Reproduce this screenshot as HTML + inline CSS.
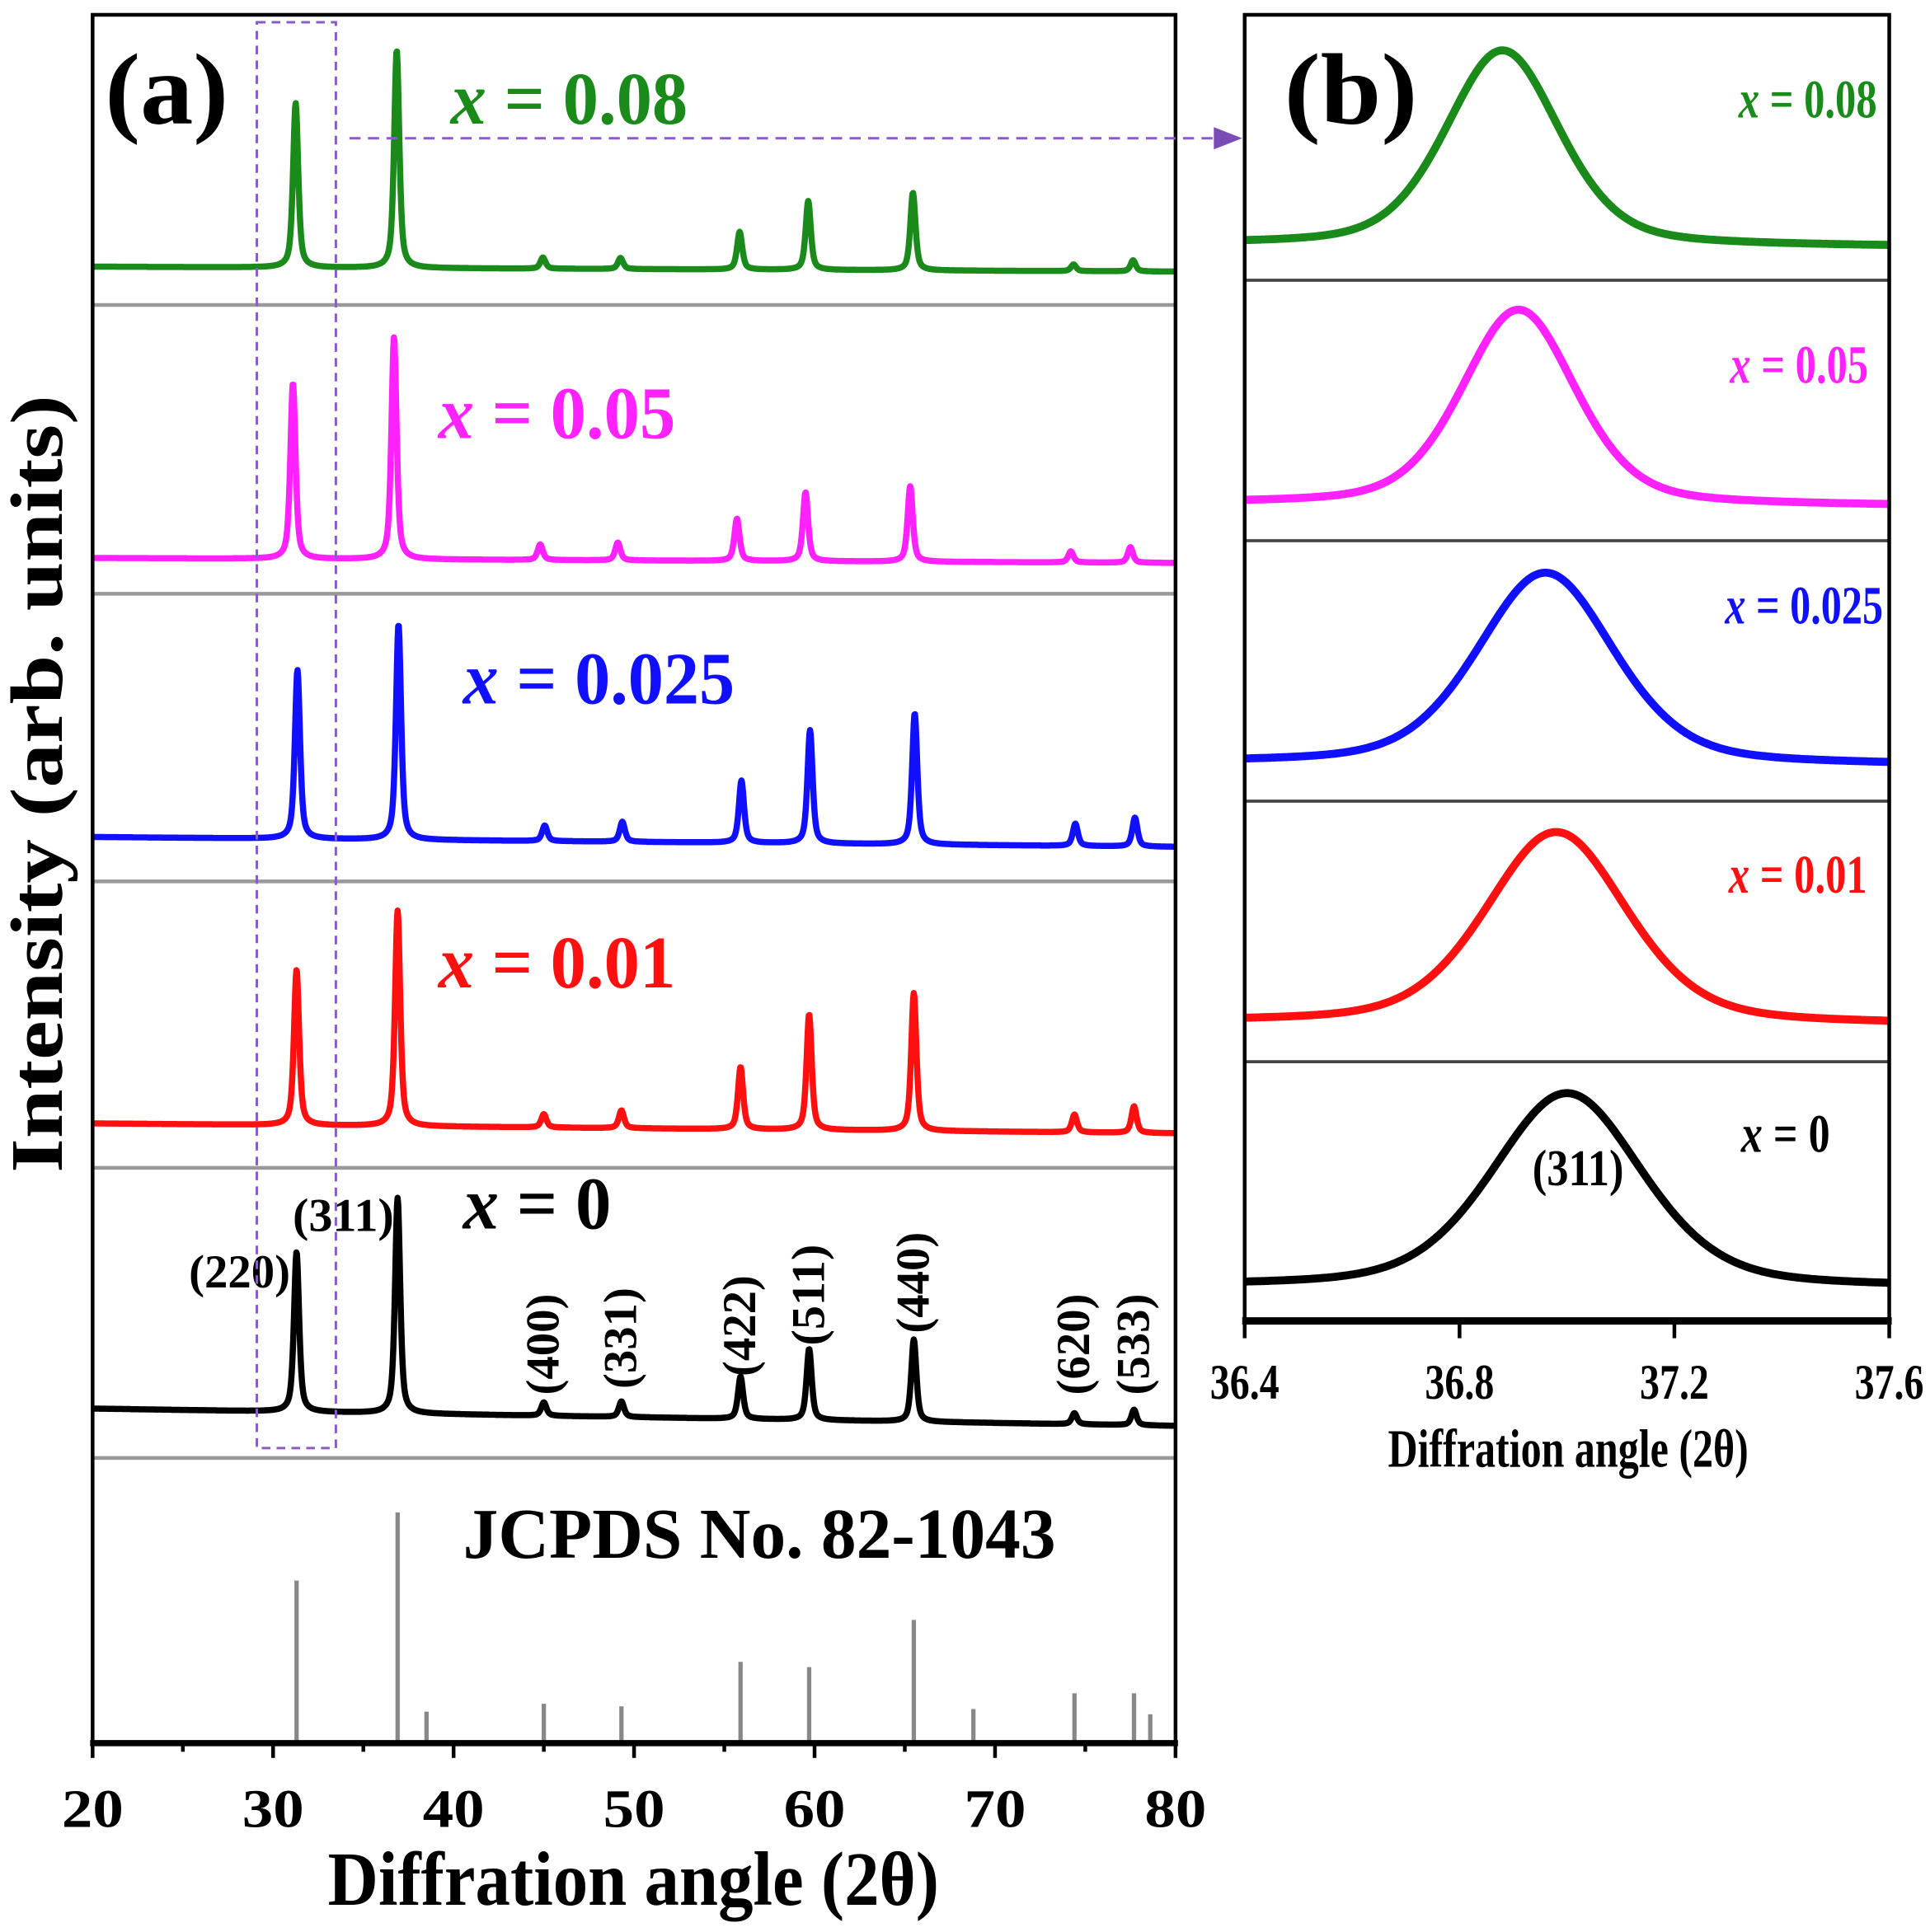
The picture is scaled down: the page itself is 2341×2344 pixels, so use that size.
<!DOCTYPE html>
<html><head><meta charset="utf-8"><style>
html,body{margin:0;padding:0;background:#fff;}
svg{display:block;}
text{font-family:"Liberation Serif",serif;font-weight:bold;}
</style></head><body>
<svg id="fig" xmlns="http://www.w3.org/2000/svg" width="2341" height="2344" viewBox="0 0 1563 1565">
<rect x="0" y="0" width="1563" height="1565" fill="#fff"/>
<g id="pa"></g>
<g id="pb"></g>
</svg>
<script>
// ---- Panel (a) data ----
const peaks2theta = [31.3, 36.9, 45.0, 49.3, 55.9, 59.7, 65.5, 74.4, 77.7];
const hklLabels = ["(220)","(311)","(400)","(331)","(422)","(511)","(440)","(620)","(533)"];
const seriesNames = ["x = 0.08","x = 0.05","x = 0.025","x = 0.01","x = 0"];
const seriesColors = ["#1a8a1a","#ff22ff","#1010ff","#ff1010","#000000"];
const seriesShift = [-0.05, -0.2, 0.05, 0.0, 0.0];
const intens008 = [74, 98, 5, 5, 17, 31, 35, 3, 5];
const intens005 = [79, 100, 7, 8, 19, 31, 34, 5, 7];
const intens0025 = [76, 97, 7, 9, 28, 51, 59, 10, 13];
const intens001 = [70, 97, 6, 8, 28, 52, 62, 8, 12];
const intens0 = [72, 97, 6, 7, 19, 32, 37, 5, 7];
const baseLeft = [216, 452, 678, 910, 1141];
const baseRight = [220, 456, 686, 918, 1155];
const jcpdsPos = [31.3, 36.9, 38.5, 45.0, 49.3, 55.9, 59.7, 65.5, 68.8, 74.4, 77.7, 78.6];
const jcpdsInt = [62, 88, 12, 15, 14, 31, 29, 47, 13, 19, 19, 11];
const xTicksA = [20, 30, 40, 50, 60, 70, 80];
// ---- Panel (b) data ----
const bCenters = [36.88, 36.91, 36.96, 36.98, 37.0];
const bFwhm = [0.25, 0.25, 0.30, 0.31, 0.33];
const bHeights = [158, 158, 155, 155, 157];
const bBaseL = [198, 408, 618, 828, 1042];
const bBaseR = [200, 410, 620, 830, 1043];
const xTicksB = [36.4, 36.8, 37.2, 37.6];

const NS="http://www.w3.org/2000/svg";
function mk(parent,tag,attrs,txt){const e=document.createElementNS(NS,tag);for(const k in attrs)e.setAttribute(k,attrs[k]);if(txt!==undefined)e.textContent=txt;parent.appendChild(e);return e;}
const pa=document.getElementById('pa'), pb=document.getElementById('pb');

const AX0=75, AX1=952, AY0=12, AY1=1412;
const xA=v=>AX0+(v-20)/60*(AX1-AX0);
const ampA=180/100;
const intensAll=[intens008,intens005,intens0025,intens001,intens0];
const seps=[247,481,714,946,1181];

seps.forEach((y,i)=>{const l=mk(pa,'line',{x1:AX0,x2:AX1,y1:y,y2:y,stroke:'#999','stroke-width':3});

});

function prof(x,c,w){const d=(x-c)/w;return 0.6/(1+d*d)+0.4*Math.exp(-Math.log(2)*d*d);}
intensAll.forEach((arr,s)=>{
  let d='';
  for(let px=AX0;px<=AX1;px+=0.5){
    const v=20+(px-AX0)/(AX1-AX0)*60;
    let I=0;
    peaks2theta.forEach((p,k)=>{I+=arr[k]*prof(v,p+seriesShift[s],0.17);});
    const base=baseLeft[s]+(baseRight[s]-baseLeft[s])*(px-AX0)/(AX1-AX0);
    const y=base-I*ampA;
    d+=(d?'L':'M')+px.toFixed(1)+' '+y.toFixed(1);
  }
  const p=mk(pa,'path',{d:d,fill:'none',stroke:seriesColors[s],'stroke-width':5,'stroke-linejoin':'round'});
  
  
});
jcpdsPos.forEach((p,k)=>{
  const l=mk(pa,'line',{x1:xA(p),x2:xA(p),y1:AY1,y2:AY1-jcpdsInt[k]*ampA*1.18,stroke:'#888','stroke-width':3.5});
  
  
});
const fa=mk(pa,'rect',{x:AX0,y:AY0,width:AX1-AX0,height:AY1-AY0,fill:'none',stroke:'#000','stroke-width':3});


mk(pa,'line',{x1:AX0-2,x2:AX1+2,y1:AY1,y2:AY1,stroke:'#000','stroke-width':5});
for(let v=20;v<=80;v+=5){
  const major=v%10===0;
  mk(pa,'line',{x1:xA(v),x2:xA(v),y1:AY1,y2:AY1+(major?12:7),stroke:'#000','stroke-width':3});
}
xTicksA.forEach(v=>{const t=mk(pa,'text',{x:xA(v),y:1480,'font-size':44,'text-anchor':'middle',textLength:50,lengthAdjust:'spacingAndGlyphs'},String(v));

});
let t=mk(pa,'text',{x:513,y:1543,'font-size':62,'text-anchor':'middle',textLength:495,lengthAdjust:'spacingAndGlyphs'},'Diffration angle (2θ)');

t=mk(pa,'text',{x:0,y:0,'font-size':60,'text-anchor':'middle',transform:'translate(50,635) rotate(-90)',textLength:630,lengthAdjust:'spacingAndGlyphs'},'Intensity (arb. units)');

t=mk(pa,'text',{x:85,y:100,'font-size':82,textLength:100,lengthAdjust:'spacingAndGlyphs'},'(a)');

const labPos=[[365,100],[355,355],[375,570],[355,800],[375,995]];
const labW=[192,192,220,192,120];
seriesNames.forEach((n,s)=>{
  const g=mk(pa,'text',{x:labPos[s][0],y:labPos[s][1],'font-size':60,fill:seriesColors[s],textLength:labW[s],lengthAdjust:'spacingAndGlyphs'});
  mk(g,'tspan',{'font-style':'italic'},'x');
  mk(g,'tspan',{},n.slice(1));
  
});
t=mk(pa,'text',{x:375,y:1262,'font-size':58,textLength:480,lengthAdjust:'spacingAndGlyphs'},'JCPDS No. 82-1043');

t=mk(pa,'text',{x:153,y:1043,'font-size':38,textLength:82,lengthAdjust:'spacingAndGlyphs'},hklLabels[0]);

t=mk(pa,'text',{x:237,y:997,'font-size':38,textLength:82,lengthAdjust:'spacingAndGlyphs'},hklLabels[1]);

const hklBottom=[0,0,1130,1125,1115,1090,1080,1130,1130];
for(let k=2;k<9;k++){
  const x=xA(peaks2theta[k])+12;
  t=mk(pa,'text',{x:0,y:0,'font-size':38,transform:'translate('+x+','+hklBottom[k]+') rotate(-90)',textLength:82,lengthAdjust:'spacingAndGlyphs'},hklLabels[k]);
  
}
t=mk(pa,'rect',{x:208,y:18,width:64,height:1155,fill:'none',stroke:'#8a5cc8','stroke-width':2,'stroke-dasharray':'7 5'});

t=mk(pa,'line',{x1:283,y1:112,x2:985,y2:112,stroke:'#8a5cc8','stroke-width':2,'stroke-dasharray':'9 6'});

mk(pa,'polygon',{points:'983,103 1006,112 983,121',fill:'#7a4cb8'});

const BX0=1008, BX1=1530, BY0=12, BY1=1070;
const xB=v=>BX0+(v-36.4)/1.2*(BX1-BX0);
const bSeps=[227,438,649,860];
bSeps.forEach(y=>{const l=mk(pb,'line',{x1:BX0,x2:BX1,y1:y,y2:y,stroke:'#444','stroke-width':2.5});
});
bCenters.forEach((c,s)=>{
  let d='';
  for(let px=BX0;px<=BX1;px+=1){
    const v=36.4+(px-BX0)/(BX1-BX0)*1.2;
    const dd=(v-c)/(bFwhm[s]/2);
    const I=0.35/(1+dd*dd)+0.65*Math.exp(-Math.log(2)*dd*dd);
    const base=bBaseL[s]+(bBaseR[s]-bBaseL[s])*(px-BX0)/(BX1-BX0);
    d+=(d?'L':'M')+px+' '+(base-I*bHeights[s]).toFixed(1);
  }
  const p=mk(pb,'path',{d:d,fill:'none',stroke:seriesColors[s],'stroke-width':6.5,'stroke-linejoin':'round'});
  
});
t=mk(pb,'rect',{x:BX0,y:BY0,width:BX1-BX0,height:BY1-BY0,fill:'none',stroke:'#000','stroke-width':3});

mk(pb,'line',{x1:BX0-2,x2:BX1+2,y1:BY1,y2:BY1,stroke:'#000','stroke-width':6});
xTicksB.forEach(v=>{
  mk(pb,'line',{x1:xB(v),x2:xB(v),y1:BY1,y2:BY1+14,stroke:'#000','stroke-width':3});
  const tt=mk(pb,'text',{x:xB(v),y:1133,'font-size':40,'text-anchor':'middle',textLength:56,lengthAdjust:'spacingAndGlyphs'},v.toFixed(1));
  
});
t=mk(pb,'text',{x:1270,y:1188,'font-size':44,'text-anchor':'middle',textLength:292,lengthAdjust:'spacingAndGlyphs'},'Diffration angle (2θ)');

t=mk(pb,'text',{x:1040,y:100,'font-size':82,textLength:108,lengthAdjust:'spacingAndGlyphs'},'(b)');

const bLab=[[1520,95,112],[1513,310,112],[1525,505,128],[1512,723,112],[1482,933,72]];
seriesNames.forEach((n,s)=>{
  const g=mk(pb,'text',{x:bLab[s][0],y:bLab[s][1],'font-size':44,fill:seriesColors[s],'text-anchor':'end',textLength:bLab[s][2],lengthAdjust:'spacingAndGlyphs'});
  mk(g,'tspan',{'font-style':'italic'},'x');
  mk(g,'tspan',{},n.slice(1));
  
});
t=mk(pb,'text',{x:1278,y:960,'font-size':42,'text-anchor':'middle',textLength:74,lengthAdjust:'spacingAndGlyphs'},'(311)');

</script>
</body></html>
